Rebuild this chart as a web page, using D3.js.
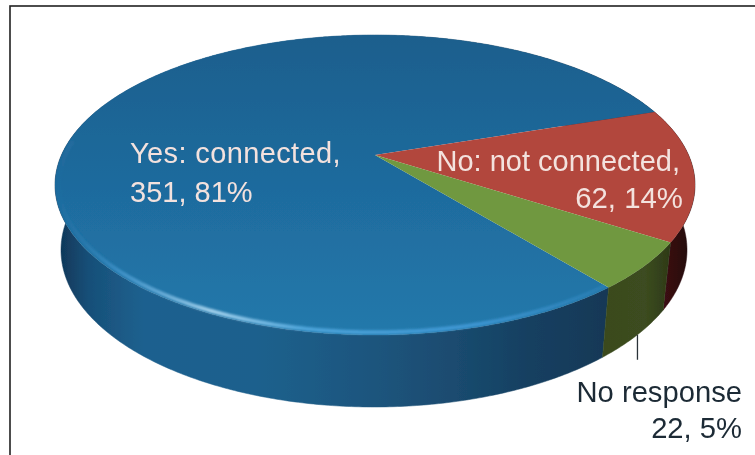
<!DOCTYPE html>
<html>
<head>
<meta charset="utf-8">
<script src="https://cdn.jsdelivr.net/npm/d3@7"></script>
<style>
html,body{margin:0;padding:0;background:#fff;overflow:hidden}
svg{display:block}
text{font-family:"Liberation Sans",Arial,sans-serif}
</style>
</head>
<body>
<svg id="c" width="755" height="455"></svg>
<script>
const categories = ["Yes: connected", "No: not connected", "No response"];
const values = [351, 62, 22];
const percents = ["81%", "14%", "5%"];
const topFaceColors = ["url(#gTop)", "#b2463c", "#6f983f"];
const sideColors = ["url(#gSideBlue)", "url(#gSideRed)", "url(#gSideGreen)"];

const W = 755, H = 455;
const svg = d3.select("#c");
const defs = svg.append("defs");

function linear(id, stops, x1, y1, x2, y2) {
  const g = defs.append("linearGradient").attr("id", id)
    .attr("gradientUnits", "userSpaceOnUse")
    .attr("x1", x1).attr("y1", y1).attr("x2", x2).attr("y2", y2);
  stops.forEach(s => g.append("stop").attr("offset", s[0]).attr("stop-color", s[1]).attr("stop-opacity", s[2] === undefined ? 1 : s[2]));
}
linear("gTop", [[0, "#1c5f8d"], [0.55, "#1f6c9f"], [1, "#2379ab"]], 0, 36, 0, 335);
linear("gSideBlue", [[0, "#0f3454"], [0.06, "#174f78"], [0.16, "#1e618f"], [0.36, "#1f618d"], [0.55, "#1b567f"], [0.72, "#1a4b6f"], [0.86, "#143f60"], [1, "#123856"]], 55, 0, 612, 0);
linear("gSideGreen", [[0, "#3a4a1e"], [0.6, "#3c4c20"], [1, "#2c3816"]], 605, 0, 672, 0);
linear("gSideRed", [[0, "#3c0d12"], [1, "#1e0a0c"]], 665, 0, 695, 0);
linear("gRim", [[0, "#3f97d4", 0.2], [0.25, "#3f97d4", 0.95], [0.55, "#4fa6dc", 0.95], [0.72, "#a7d4ee", 0.95], [0.88, "#4a9dd4", 0.7], [1, "#2d7fb5", 0]], 612, 0, 55, 0);

defs.append("filter").attr("id", "soft").attr("x", "-5%").attr("y", "-5%").attr("width", "110%").attr("height", "110%")
  .append("feGaussianBlur").attr("stdDeviation", 0.65);
defs.append("filter").attr("id", "rimBlur").attr("x", "-5%").attr("y", "-20%").attr("width", "110%").attr("height", "140%")
  .append("feGaussianBlur").attr("stdDeviation", 1.2);

const root = svg.append("g").attr("filter", "url(#soft)");

// Frame: open towards the right and bottom page edges
root.append("rect").attr("x", 10).attr("y", 6).attr("width", W + 20).attr("height", H + 20)
  .attr("fill", "#fff").attr("stroke", "#222").attr("stroke-width", 1.6);

// Perspective view of a disc: disc centre is seen above the ellipse centre
const tilt = 0.2;
const topX = d3.scaleLinear().domain([-1, 1]).range([55, 695]);
const topY = d3.scaleLinear().domain([-1, 1]).range([35, 335]);
const botX = d3.scaleLinear().domain([-1, 1]).range([61, 687]);
const botY = d3.scaleLinear().domain([-1, 1]).range([93, 407]);

function disc(r, angle) {
  const x = r * Math.sin(angle), y = -r * Math.cos(angle);
  const w = 1 - tilt * y;
  return [x * Math.sqrt(1 - tilt * tilt) / w, (y - tilt) / w];
}
const onTop = (r, a) => { const p = disc(r, a); return [topX(p[0]), topY(p[1])]; };
const onBottom = (r, a) => { const p = disc(r, a); return [botX(p[0]), botY(p[1])]; };

const startAngle = 141 * Math.PI / 180;
const arcs = d3.pie().sort(null).startAngle(startAngle).endAngle(startAngle + 2 * Math.PI)(values);
const line = d3.line();
const steps = (a0, a1) => {
  const n = Math.max(2, Math.ceil((a1 - a0) / 0.01));
  return d3.range(n + 1).map(i => a0 + (a1 - a0) * i / n);
};

// Side walls
root.append("g").selectAll("path").data(arcs).join("path")
  .attr("d", d => {
    const as = steps(d.startAngle, d.endAngle);
    return line(as.map(a => onTop(1, a)).concat(as.slice().reverse().map(a => onBottom(1, a)))) + "Z";
  })
  .attr("fill", d => sideColors[d.index])
  .attr("stroke", d => sideColors[d.index]).attr("stroke-width", 0.5);

// Top faces
root.append("g").selectAll("path").data(arcs).join("path")
  .attr("d", d => line([onTop(0, d.startAngle)].concat(steps(d.startAngle, d.endAngle).map(a => onTop(1, a)))) + "Z")
  .attr("fill", d => topFaceColors[d.index]);

// Bevel highlight on the front rim of the large slice
root.append("path")
  .attr("d", line(steps(arcs[0].startAngle, 3 * Math.PI / 2 + 0.1).map(a => onTop(0.988, a))))
  .attr("fill", "none").attr("stroke", "url(#gRim)").attr("stroke-width", 4).attr("filter", "url(#rimBlur)");

// Leader for the small slice
const mid = (arcs[2].startAngle + arcs[2].endAngle) / 2;
const leader = onBottom(1, mid);
root.append("line").attr("x1", leader[0]).attr("x2", leader[0]).attr("y1", leader[1]).attr("y2", leader[1] + 25)
  .attr("stroke", "#2b3238").attr("stroke-width", 1.3);

// Labels
const light = "#f3e2de", dark = "#1d2b36";
const labelRows = [
  {t: categories[0] + ",", x: 130, y: 163, s: 29, a: "start", c: light, ls: 0.38},
  {t: values[0] + ", " + percents[0], x: 130, y: 202, s: 29, a: "start", c: light, ls: 0},
  {t: categories[1] + ",", x: 680, y: 171, s: 29, a: "end", c: light, ls: 0},
  {t: values[1] + ", " + percents[1], x: 683, y: 208, s: 29.4, a: "end", c: light, ls: 0},
  {t: categories[2], x: 742, y: 402, s: 29.2, a: "end", c: dark, ls: 0},
  {t: values[2] + ", " + percents[2], x: 742, y: 438, s: 29.2, a: "end", c: dark, ls: 0}
];
root.append("g").selectAll("text").data(labelRows).join("text")
  .attr("x", d => d.x).attr("y", d => d.y).attr("font-size", d => d.s)
  .attr("letter-spacing", d => d.ls)
  .attr("text-anchor", d => d.a).attr("fill", d => d.c).text(d => d.t);
</script>
</body>
</html>
